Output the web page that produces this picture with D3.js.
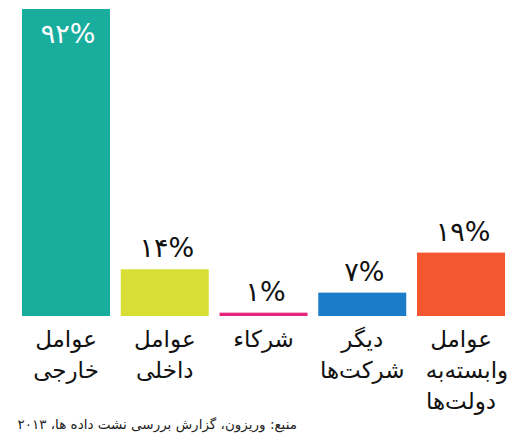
<!DOCTYPE html>
<html><head><meta charset="utf-8">
<script src="https://cdn.jsdelivr.net/npm/d3@7"></script>
<style>html,body{margin:0;padding:0;background:#fff;}svg{display:block;}</style>
</head><body>
<script>
const categories = ["foreign", "internal", "partners", "otherCompanies", "stateAffiliated"];
const categoryLabels = [
  ["عوامل", "خارجی"],
  ["عوامل", "داخلی"],
  ["شرکاء"],
  ["دیگر", "شرکت‌ها"],
  ["عوامل", "وابسته‌به", "دولت‌ها"]
];
const values = [92, 14, 1, 7, 19];
const colors = ["#19ad9e", "#d8de36", "#e6267b", "#1b7dca", "#f4562f"];
const sourceText = "منبع: وریزون، گزارش بررسی نشت داده ها، ۲۰۱۳";

const W = 507, H = 439;
const svg = d3.select("body").append("svg").attr("width", W).attr("height", H);
const font = "DejaVu Sans, sans-serif";
const fa = s => String(s).replace(/[0-9]/g, d => "۰۱۲۳۴۵۶۷۸۹"[+d]);

const x = d3.scaleBand().domain(categories).range([22, 505]).paddingInner(0.109).paddingOuter(0);
const y = d3.scaleLinear().domain([0, 92]).range([316, 9]);

svg.selectAll("rect.bar").data(values).join("rect")
  .attr("class", "bar")
  .attr("x", (d, i) => x(categories[i]))
  .attr("y", d => y(d))
  .attr("width", x.bandwidth())
  .attr("height", d => y(0) - y(d))
  .attr("fill", (d, i) => colors[i]);

svg.selectAll("text.val").data(values).join("text")
  .attr("class", "val")
  .attr("x", (d, i) => x(categories[i]) + x.bandwidth() / 2 + 2)
  .attr("y", (d, i) => i === 0 ? y(d) + 34 : y(d) - 12)
  .attr("text-anchor", "middle")
  .attr("font-family", font)
  .attr("font-size", 27)
  .attr("fill", (d, i) => i === 0 ? "#ffffff" : "#111")
  .text(d => fa(d) + "%");

categoryLabels.forEach((lines, i) => {
  const cx = x(categories[i]) + x.bandwidth() / 2;
  lines.forEach((ln, j) => {
    svg.append("text")
      .attr("x", cx + (i === 4 && j === 1 ? 6 : 0))
      .attr("y", 347 + j * 31)
      .attr("text-anchor", "middle")
      .attr("font-family", font)
      .attr("font-size", 23)
      .attr("fill", "#111")
      .text(ln);
  });
});

svg.append("text")
  .attr("x", 297).attr("y", 429)
  .attr("text-anchor", "end")
  .attr("font-family", font)
  .attr("font-size", 13.5)
  .attr("fill", "#222")
  .text(sourceText);
</script>
</body></html>
